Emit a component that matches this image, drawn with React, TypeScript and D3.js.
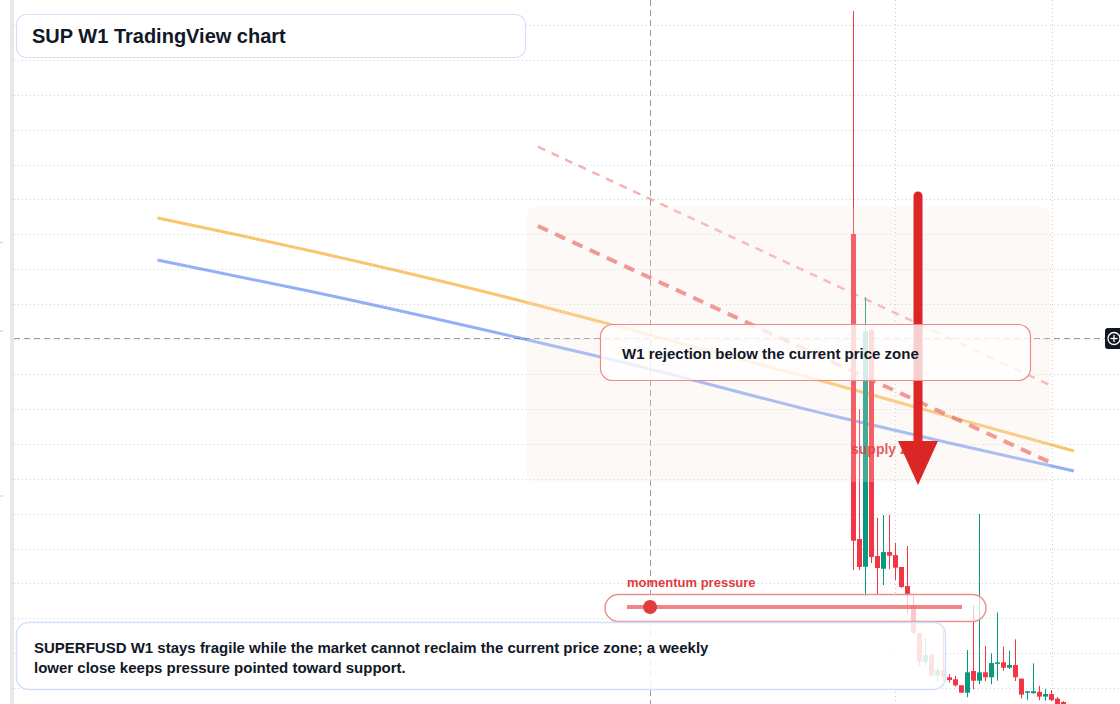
import React from "react";
import * as d3 from "d3";

// ---- data ----
// candles: bar index 0..35, [open, high, low, close]
const candleOpen = [0.7006, 0.2636, 0.2239, 0.563, 0.2392, 0.2210, 0.2449, 0.2406, 0.2235, 0.1962, 0.1690, 0.1289, 0.0874, 0.0974, 0.0677, 0.0759, 0.0655, 0.0626, 0.0540, 0.0434, 0.0745, 0.0606, 0.0726, 0.0655, 0.0859, 0.0869, 0.0792, 0.0831, 0.0636, 0.0439, 0.0427, 0.0446, 0.0378, 0.0415, 0.0349, 0.0300];
const candleHigh = [1.0200, 0.4498, 0.6103, 0.5640, 0.2941, 0.2980, 0.2980, 0.2583, 0.2236, 0.2535, 0.1848, 0.1290, 0.1218, 0.1002, 0.0820, 0.1338, 0.0702, 0.0677, 0.0541, 0.1046, 0.1690, 0.2994, 0.1103, 0.0998, 0.1585, 0.1093, 0.1035, 0.1199, 0.0636, 0.0461, 0.0855, 0.0534, 0.0487, 0.0472, 0.0372, 0.0315];
const candleLow = [0.2192, 0.2192, 0.1805, 0.2292, 0.1848, 0.1977, 0.2206, 0.2048, 0.1938, 0.1576, 0.1260, 0.0816, 0.0816, 0.0659, 0.0591, 0.0591, 0.0577, 0.0520, 0.0430, 0.0368, 0.0483, 0.0554, 0.0601, 0.0554, 0.0606, 0.0749, 0.0773, 0.0601, 0.0349, 0.0333, 0.0417, 0.0325, 0.0319, 0.0315, 0.0215, 0.0158];
const candleClose = [0.2611, 0.2235, 0.5616, 0.2378, 0.2220, 0.2449, 0.2396, 0.2225, 0.1948, 0.1843, 0.1289, 0.0878, 0.0974, 0.0677, 0.0759, 0.0659, 0.0616, 0.0540, 0.0434, 0.0726, 0.0606, 0.0726, 0.0655, 0.0859, 0.0869, 0.0792, 0.0831, 0.0655, 0.0407, 0.0453, 0.0456, 0.0378, 0.0415, 0.0329, 0.0243, 0.0186];

// moving averages (bar index, price)
const maIndex = [-116, -90, -56, -40, -4, 16, 36.75];
const maOrange = [0.7235, 0.6755, 0.6060, 0.5700, 0.4871, 0.4389, 0.3896];
const maBlue = [0.6633, 0.6175, 0.5523, 0.5200, 0.4412, 0.4011, 0.3610];

// trend lines [startIndex, startPrice, endIndex, endPrice]
const trendLight = [-52.6, 0.8256, 33.1, 0.4828];
const trendStrong = [-52.6, 0.7120, 33.4, 0.3710];

// supply zone [fromIndex, toIndex, topPrice, bottomPrice]
const supplyZone = [-54.4, 32.75, 0.7392, 0.3453];

// price grid ticks
const priceTicks = d3.range(0.05, 1.0001, 0.05);
const timeGridIdx = [6.9, 33.1];

// crosshair
const crossPrice = 0.5516;
const crossIdx = -33.9;

// arrow [index, fromPrice, toPrice]
const arrowData = [10.75, 0.755, 0.3409];

// momentum line [fromIndex, toIndex, markerIndex]
const momentumIdx = [-37.75, 18.08, -33.9];

const titleText = "SUP W1 TradingView chart";
const calloutText = "W1 rejection below the current price zone";
const supplyLabel = "supply zone";
const momentumLabel = "momentum pressure";
const noteLines = [
  "SUPERFUSD W1 stays fragile while the market cannot reclaim the current price zone; a weekly",
  "lower close keeps pressure pointed toward support.",
];

const W = 1120;
const H = 704;
const FONT = "'Liberation Sans', Arial, Helvetica, sans-serif";
const RED = "#f23645";
const GREEN = "#089981";

export default function App() {
  const x = d3.scaleLinear().domain([0, 36]).range([853.5, 1069.5]);
  const y = d3.scaleLinear().domain([0.05, 1.0]).range([688.1, 25]);

  const maLine = (vals: number[]) =>
    d3
      .line<number>()
      .x((_, i) => x(maIndex[i]))
      .y((v) => y(v))
      .curve(d3.curveMonotoneX)(vals) || "";

  const candles = candleOpen.map((o, i) => ({
    i,
    o,
    h: candleHigh[i],
    l: candleLow[i],
    c: candleClose[i],
  }));

  const momY = 607;
  const ax = x(arrowData[0]);
  const aTop = y(arrowData[1]);
  const aTip = y(arrowData[2]);

  return (
    <svg
      width={W}
      height={H}
      viewBox={`0 0 ${W} ${H}`}
      style={{ position: "absolute", left: 0, top: 0, background: "#fff" }}
    >
      <rect x={0} y={0} width={W} height={H} fill="#ffffff" />
      {/* left edge band */}
      <rect x={10} y={0} width={4} height={H} fill="#e8e8e8" />
      {[242.7, 331, 496].map((t, k) => (
        <line key={k} x1={0} x2={3} y1={t} y2={t} stroke="#c8c8c8" strokeWidth={1} />
      ))}

      {/* grid */}
      <g>
        {priceTicks.map((p, k) => (
          <line
            key={k}
            x1={14}
            x2={W}
            y1={Math.round(y(p)) + 0.5}
            y2={Math.round(y(p)) + 0.5}
            stroke="#cfcfcf"
            strokeWidth={1}
            strokeDasharray="1 3"
          />
        ))}
        {timeGridIdx.map((t, k) => (
          <line
            key={k}
            x1={Math.round(x(t)) + 0.5}
            x2={Math.round(x(t)) + 0.5}
            y1={0}
            y2={H}
            stroke="#cfcfcf"
            strokeWidth={1}
            strokeDasharray="1 3"
          />
        ))}
      </g>

      {/* crosshair */}
      <line x1={14} x2={1105} y1={Math.round(y(crossPrice)) + 0.5} y2={Math.round(y(crossPrice)) + 0.5} stroke="#9a9a9a" strokeWidth={1} strokeDasharray="6 4" />
      <line x1={Math.round(x(crossIdx)) + 0.5} x2={Math.round(x(crossIdx)) + 0.5} y1={0} y2={H} stroke="#9a9a9a" strokeWidth={1} strokeDasharray="6 4" />

      {/* moving averages */}
      <path d={maLine(maOrange)} fill="none" stroke="#f59e0b" strokeOpacity={0.6} strokeWidth={3} />
      <path d={maLine(maBlue)} fill="none" stroke="#3b6ff0" strokeOpacity={0.55} strokeWidth={3} />

      {/* trend lines */}
      <line x1={x(trendLight[0])} y1={y(trendLight[1])} x2={x(trendLight[2])} y2={y(trendLight[3])} stroke="#ef4444" strokeOpacity={0.42} strokeWidth={2.5} strokeDasharray="8 7" />
      <line x1={x(trendStrong[0])} y1={y(trendStrong[1])} x2={x(trendStrong[2])} y2={y(trendStrong[3])} stroke="#e53e3e" strokeOpacity={0.65} strokeWidth={4} strokeDasharray="11 8" />

      {/* candles */}
      <g>
        {candles.map((d) => {
          const cx = x(d.i);
          const col = d.c >= d.o ? GREEN : RED;
          const top = y(Math.max(d.o, d.c));
          const bot = y(Math.min(d.o, d.c));
          return (
            <g key={d.i}>
              <rect x={cx - 0.5} y={y(d.h)} width={1} height={Math.max(1, y(d.l) - y(d.h))} fill={col} />
              <rect x={cx - 2.5} y={top} width={5} height={Math.max(1.5, bot - top)} fill={col} />
            </g>
          );
        })}
      </g>

      {/* supply zone */}
      <rect
        x={x(supplyZone[0])}
        y={y(supplyZone[2])}
        width={x(supplyZone[1]) - x(supplyZone[0])}
        height={y(supplyZone[3]) - y(supplyZone[2])}
        rx={8}
        fill="#f8e6da"
        fillOpacity={0.24}
      />
      <text x={851} y={454} fontFamily={FONT} fontWeight={700} fontSize={14} fill="#e53e3e" fillOpacity={0.85}>
        {supplyLabel}
      </text>

      {/* arrow */}
      <line x1={ax} x2={ax} y1={aTop} y2={aTip - 40} stroke="#dc2626" strokeWidth={9} strokeLinecap="round" />
      <path d={`M${ax - 20},${aTip - 44} L${ax + 20},${aTip - 44} L${ax},${aTip} Z`} fill="#dc2626" />

      {/* callout */}
      <rect x={600.5} y={324.5} width={430} height={56} rx={12} fill="#ffffff" fillOpacity={0.78} stroke="#ef8a8a" strokeWidth={1.2} />
      <text x={622} y={359} fontFamily={FONT} fontWeight={700} fontSize={15} fill="#111827">
        {calloutText}
      </text>

      {/* momentum */}
      <text x={627} y={587} fontFamily={FONT} fontWeight={700} fontSize={13} fill="#e03b3b">
        {momentumLabel}
      </text>
      <rect x={605} y={594.5} width={381} height={27} rx={13.5} fill="#ffffff" fillOpacity={0.72} stroke="#ef8f8f" strokeWidth={1.5} />
      <line x1={x(momentumIdx[0])} x2={x(momentumIdx[1])} y1={momY} y2={momY} stroke="#ef6f6f" strokeOpacity={0.85} strokeWidth={4} />
      <circle cx={x(momentumIdx[2])} cy={momY} r={7} fill="#e03c3c" />

      {/* bottom note */}
      <rect x={16.5} y={622.5} width={929} height={67} rx={12} fill="#ffffff" fillOpacity={0.86} stroke="#d2e1fa" strokeWidth={1.5} />
      {noteLines.map((t, k) => (
        <text key={k} x={34} y={653 + k * 20} fontFamily={FONT} fontWeight={700} fontSize={15} fill="#111827">
          {t}
        </text>
      ))}

      {/* title */}
      <rect x={16.5} y={14.5} width={509} height={43} rx={10} fill="#ffffff" stroke="#d4e2f8" strokeWidth={1.2} />
      <text x={32} y={43} fontFamily={FONT} fontWeight={700} fontSize={20} fill="#111827">
        {titleText}
      </text>

      {/* crosshair price marker */}
      <rect x={1105} y={328} width={18} height={21} rx={3} fill="#131722" />
      <circle cx={1114} cy={338.5} r={6} fill="none" stroke="#ffffff" strokeWidth={1.3} />
      <line x1={1110.5} x2={1117.5} y1={338.5} y2={338.5} stroke="#fff" strokeWidth={1.3} />
      <line x1={1114} x2={1114} y1={335} y2={342} stroke="#fff" strokeWidth={1.3} />
    </svg>
  );
}
